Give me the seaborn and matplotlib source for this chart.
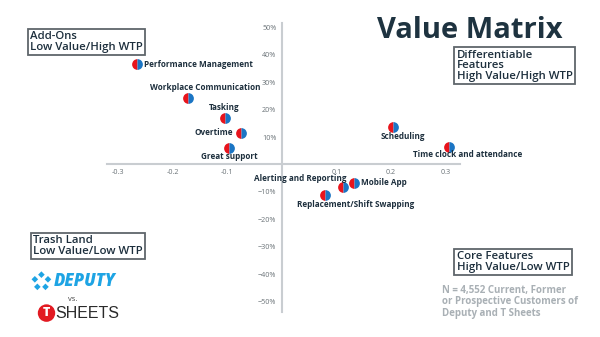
import matplotlib
matplotlib.use("Agg")
import math
import matplotlib.pyplot as plt
from matplotlib.markers import MarkerStyle
from matplotlib.patches import Ellipse, Polygon
import matplotlib.ticker as mticker
import seaborn as sns
import pandas as pd

features = ["Performance Management", "Workplace Communication", "Tasking", "Overtime",
            "Great support", "Scheduling", "Time clock and attendance", "Mobile App",
            "Alerting and Reporting", "Replacement/Shift Swapping"]
value = [-0.265, -0.173, -0.105, -0.075, -0.097, 0.204, 0.307, 0.133, 0.112, 0.080]
wtp = [0.366, 0.242, 0.169, 0.114, 0.061, 0.136, 0.065, -0.069, -0.083, -0.112]
x_ticks = [-0.3, -0.2, -0.1, 0.1, 0.2, 0.3]
y_ticks = [0.5, 0.4, 0.3, 0.2, 0.1, -0.1, -0.2, -0.3, -0.4, -0.5]

df = pd.DataFrame({"feature": features, "value": value, "wtp": wtp})

sns.set_theme(style="white")
plt.rcParams['font.family'] = ['Open Sans', 'DejaVu Sans']

fig = plt.figure(figsize=(6, 3.37), dpi=100)
ax = fig.add_axes([0.178, 0.074, 0.589, 0.858])
ax.set_facecolor("none")

RED = "#e8141c"
BLUE = "#1b75c4"
NAVY = "#1d2f3d"
sns.scatterplot(data=df, x="value", y="wtp", ax=ax, marker=MarkerStyle("o", fillstyle="left"),
                color=RED, s=60, linewidth=0, zorder=3)
sns.scatterplot(data=df, x="value", y="wtp", ax=ax, marker=MarkerStyle("o", fillstyle="right"),
                color=BLUE, s=60, linewidth=0, zorder=3)

ax.set_xlim(-0.321, 0.327)
ax.set_ylim(-0.538, 0.516)
ax.spines['left'].set_position(('data', 0))
ax.spines['bottom'].set_position(('data', 0))
for s in ['top', 'right']:
    ax.spines[s].set_visible(False)
for s in ['left', 'bottom']:
    ax.spines[s].set_color("#c9cdd1")
    ax.spines[s].set_linewidth(1.5)
ax.set_xticks(x_ticks)
ax.set_yticks(y_ticks)
ax.xaxis.set_major_formatter(mticker.FuncFormatter(lambda v, p: f"{v:g}"))
ax.yaxis.set_major_formatter(mticker.PercentFormatter(1.0, decimals=0))
ax.tick_params(axis='both', length=0, labelsize=5.2, labelcolor="#6b7378")
ax.tick_params(axis='x', pad=3)
ax.tick_params(axis='y', pad=4)
ax.set_xlabel("")
ax.set_ylabel("")

# label offsets in points (dx, dy) and alignment
offsets = {
    "Performance Management": (5, 0, "left"),
    "Workplace Communication": (13, 7.5, "center"),
    "Tasking": (0, 7.5, "center"),
    "Overtime": (-6, 0.5, "right"),
    "Great support": (0, -6, "center"),
    "Scheduling": (7, -7, "center"),
    "Time clock and attendance": (13, -6, "center"),
    "Mobile App": (5, 0.5, "left"),
    "Alerting and Reporting": (-31, 6, "center"),
    "Replacement/Shift Swapping": (22, -6.5, "center"),
}
for f, xv, yv in zip(features, value, wtp):
    dx, dy, ha = offsets[f]
    ax.annotate(f, (xv, yv), xytext=(dx, dy), textcoords="offset points",
                ha=ha, va="center", fontsize=5.9, fontweight="bold", color=NAVY)

# Title
fig.text(0.937, 0.91, "Value Matrix", ha="right", va="center", fontsize=21,
         fontweight="bold", color="#1e3340")

box = dict(boxstyle="square,pad=0.2", facecolor="white", edgecolor="#5f666b", linewidth=1.3)
def qtext(x, y, s):
    fig.text(x, y, s, ha="left", va="top", fontsize=8.2, color=NAVY, linespacing=0.98,
             fontweight="semibold", bbox=box)

qtext(0.05, 0.908, "Add-Ons\nLow Value/High WTP")
qtext(0.761, 0.853, "Differentiable\nFeatures\nHigh Value/High WTP")
qtext(0.055, 0.302, "Trash Land\nLow Value/Low WTP")
qtext(0.761, 0.255, "Core Features\nHigh Value/Low WTP")

fig.text(0.737, 0.104, "N = 4,552 Current, Former\nor Prospective Customers of\nDeputy and T Sheets",
         ha="left", va="center", fontsize=7, fontweight="bold", color="#a9b0b5", linespacing=1.05)

# Logos
DBLUE = "#1ea4e4"
fig.text(0.090, 0.165, "DEPUTY", ha="left", va="center", fontsize=12, fontweight="heavy",
         style="italic", color=DBLUE)
cx, cy = 0.069, 0.165
for k in range(5):
    a = math.radians(90 + k * 72)
    px, py = cx + 0.0115 * math.cos(a), cy + 0.02 * math.sin(a)
    w, h = 0.0055, 0.0098
    fig.patches.append(Polygon([[px - w, py], [px, py + h], [px + w, py], [px, py - h]],
                               closed=True, transform=fig.transFigure,
                               facecolor=DBLUE, edgecolor="none"))
fig.text(0.113, 0.11, "vs.", ha="left", va="center", fontsize=5.5, color="#444444")
fig.patches.append(Ellipse((0.0775, 0.071), 0.029, 0.052, transform=fig.transFigure,
                           facecolor="#e21a22", edgecolor="none"))
fig.text(0.0775, 0.071, "T", ha="center", va="center", fontsize=9, fontweight="heavy", color="white")
fig.text(0.092, 0.071, "SHEETS", ha="left", va="center", fontsize=11.5, color="#2a2a2a",
         family=["Liberation Sans", "DejaVu Sans"])

fig.savefig("out.png", dpi=100)
